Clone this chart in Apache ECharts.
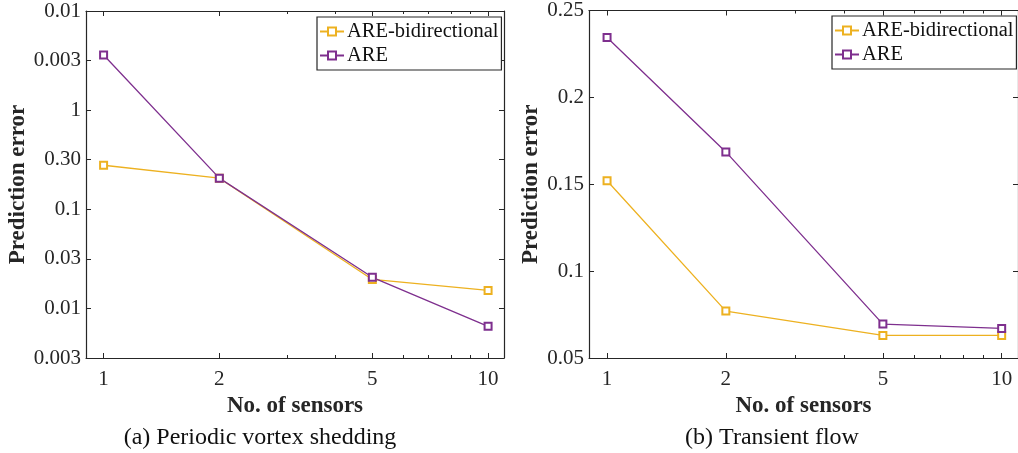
<!DOCTYPE html>
<html>
<head>
<meta charset="utf-8">
<script src="https://cdn.jsdelivr.net/npm/echarts@6/dist/echarts.min.js"></script>
<style>
  html, body { margin: 0; padding: 0; background: #fff; }
  #chart { width: 1018px; height: 453px; }
</style>
</head>
<body>
<div id="chart"></div>
<script>
// number of sensors (x, log scale)
var sensors = [1, 2, 5, 10];
var xMajor = [1, 2, 5, 10];
var xMinor = [3, 4, 6, 7, 8, 9];

// (a) periodic vortex shedding, log y
var vortexBidir = [0.278, 0.206, 0.0196, 0.0152];
var vortexAre = [3.6, 0.206, 0.0206, 0.0066];
var vortexTicks = [0.0031623, 0.01, 0.031623, 0.1, 0.31623, 1, 3.1623, 10];
var vortexLabels = ['0.003', '0.01', '0.03', '0.1', '0.30', '1', '0.003', '0.01'];

// (b) transient flow, linear y
var transBidir = [0.152, 0.077, 0.063, 0.063];
var transAre = [0.2345, 0.1686, 0.0695, 0.067];

var ORANGE = '#EDB120';
var PURPLE = '#7E2F8E';
var AXIS = '#262626';
var FONT = '"Liberation Serif", "DejaVu Serif", serif';

function pairs(ys) {
    return sensors.map(function (x, i) { return [x, ys[i]]; });
}

function xAxes(grid) {
    var base = {
        type: 'log', gridIndex: grid, min: 0.9, max: 11,
        splitLine: {show: false}
    };
    return [
        Object.assign({}, base, {
            position: 'bottom',
            name: 'No. of sensors',
            nameLocation: 'middle',
            nameGap: 35,
            nameTextStyle: {fontFamily: FONT, fontSize: 23, fontWeight: 'bold', color: AXIS},
            axisLine: {show: true, lineStyle: {color: AXIS, width: 1.2}},
            axisTick: {show: true, inside: true, length: 5, customValues: xMajor, lineStyle: {color: AXIS}},
            axisLabel: {show: true, customValues: xMajor, margin: 11, fontFamily: FONT, fontSize: 21, color: AXIS}
        }),
        Object.assign({}, base, {
            position: 'bottom',
            axisLine: {show: false},
            axisTick: {show: true, inside: true, length: 3, customValues: xMinor, lineStyle: {color: AXIS}},
            axisLabel: {show: false}
        }),
        Object.assign({}, base, {
            position: 'top',
            axisLine: {show: true, lineStyle: {color: AXIS, width: 1.2}},
            axisTick: {show: true, inside: true, length: 5, customValues: xMajor, lineStyle: {color: AXIS}},
            axisLabel: {show: false}
        }),
        Object.assign({}, base, {
            position: 'top',
            axisLine: {show: false},
            axisTick: {show: true, inside: true, length: 3, customValues: xMinor, lineStyle: {color: AXIS}},
            axisLabel: {show: false}
        })
    ];
}

function yAxesLog(grid) {
    var base = {
        type: 'log', gridIndex: grid, min: 0.0031623, max: 10,
        splitLine: {show: false}, minorTick: {show: false}
    };
    return [
        Object.assign({}, base, {
            position: 'left',
            name: 'Prediction error',
            nameLocation: 'middle',
            nameGap: 54,
            nameTextStyle: {fontFamily: FONT, fontSize: 23, fontWeight: 'bold', color: AXIS},
            axisLine: {show: true, lineStyle: {color: AXIS, width: 1.2}},
            axisTick: {show: true, inside: true, length: 5, customValues: vortexTicks, lineStyle: {color: AXIS}},
            axisLabel: {
                show: true, customValues: vortexTicks, margin: 5,
                fontFamily: FONT, fontSize: 21, color: AXIS,
                formatter: function (v) {
                    var best = 0;
                    for (var i = 0; i < vortexTicks.length; i++) {
                        if (Math.abs(Math.log(v / vortexTicks[i])) < Math.abs(Math.log(v / vortexTicks[best]))) best = i;
                    }
                    return vortexLabels[best];
                }
            }
        }),
        Object.assign({}, base, {
            position: 'right',
            axisLine: {show: true, lineStyle: {color: AXIS, width: 1.2}},
            axisTick: {show: true, inside: true, length: 5, customValues: vortexTicks, lineStyle: {color: AXIS}},
            axisLabel: {show: false}
        })
    ];
}

function yAxesLin(grid) {
    var base = {
        type: 'value', gridIndex: grid, min: 0.05, max: 0.25, interval: 0.05,
        splitLine: {show: false}
    };
    return [
        Object.assign({}, base, {
            position: 'left',
            name: 'Prediction error',
            nameLocation: 'middle',
            nameGap: 46,
            nameTextStyle: {fontFamily: FONT, fontSize: 23, fontWeight: 'bold', color: AXIS},
            axisLine: {show: true, lineStyle: {color: AXIS, width: 1.2}},
            axisTick: {show: true, inside: true, length: 5, lineStyle: {color: AXIS}},
            axisLabel: {show: true, margin: 5, fontFamily: FONT, fontSize: 21, color: AXIS}
        }),
        Object.assign({}, base, {
            position: 'right',
            axisLine: {show: true, lineStyle: {color: AXIS, width: 1.2}},
            axisTick: {show: true, inside: true, length: 5, lineStyle: {color: AXIS}},
            axisLabel: {show: false}
        })
    ];
}

function line(name, color, xi, yi, data) {
    return {
        name: name, type: 'line', xAxisIndex: xi, yAxisIndex: yi,
        data: pairs(data),
        symbol: 'emptyRect', symbolSize: 7,
        lineStyle: {color: color, width: 1.3},
        itemStyle: {color: color, borderColor: color, borderWidth: 1.3},
        animation: false
    };
}

function legend(left, top) {
    return {
        left: left, top: top, orient: 'vertical',
        data: ['ARE-bidirectional', 'ARE'],
        backgroundColor: '#fff',
        borderColor: AXIS, borderWidth: 1.2, borderRadius: 0,
        padding: [4, 3, 4, 2],
        itemGap: 3, itemWidth: 24, itemHeight: 10,
        textStyle: {fontFamily: FONT, fontSize: 20.5, color: '#111', padding: [0, 0, 0, -2]},
        selectedMode: false
    };
}

var chartDom = document.getElementById('chart');
var myChart = echarts.init(chartDom);
var option;

option = {
    backgroundColor: '#fff',
    animation: false,
    title: [
        {text: '(a) Periodic vortex shedding', left: 255, top: 421, textAlign: 'center',
         textStyle: {fontFamily: FONT, fontSize: 24, fontWeight: 'normal', color: '#111'}},
        {text: '(b) Transient flow', left: 767, top: 421, textAlign: 'center',
         textStyle: {fontFamily: FONT, fontSize: 24, fontWeight: 'normal', color: '#111'}}
    ],
    grid: [
        {left: 86, right: 514, top: 11, bottom: 95, containLabel: false},
        {left: 589, right: 0, top: 9, bottom: 95, containLabel: false}
    ],
    legend: [legend(317, 17), legend(832, 16)],
    xAxis: xAxes(0).concat(xAxes(1)),
    yAxis: yAxesLog(0).concat(yAxesLin(1)),
    series: [
        line('ARE-bidirectional', ORANGE, 0, 0, vortexBidir),
        line('ARE', PURPLE, 0, 0, vortexAre),
        line('ARE-bidirectional', ORANGE, 4, 2, transBidir),
        line('ARE', PURPLE, 4, 2, transAre)
    ]
};

option && myChart.setOption(option);
</script>
</body>
</html>
